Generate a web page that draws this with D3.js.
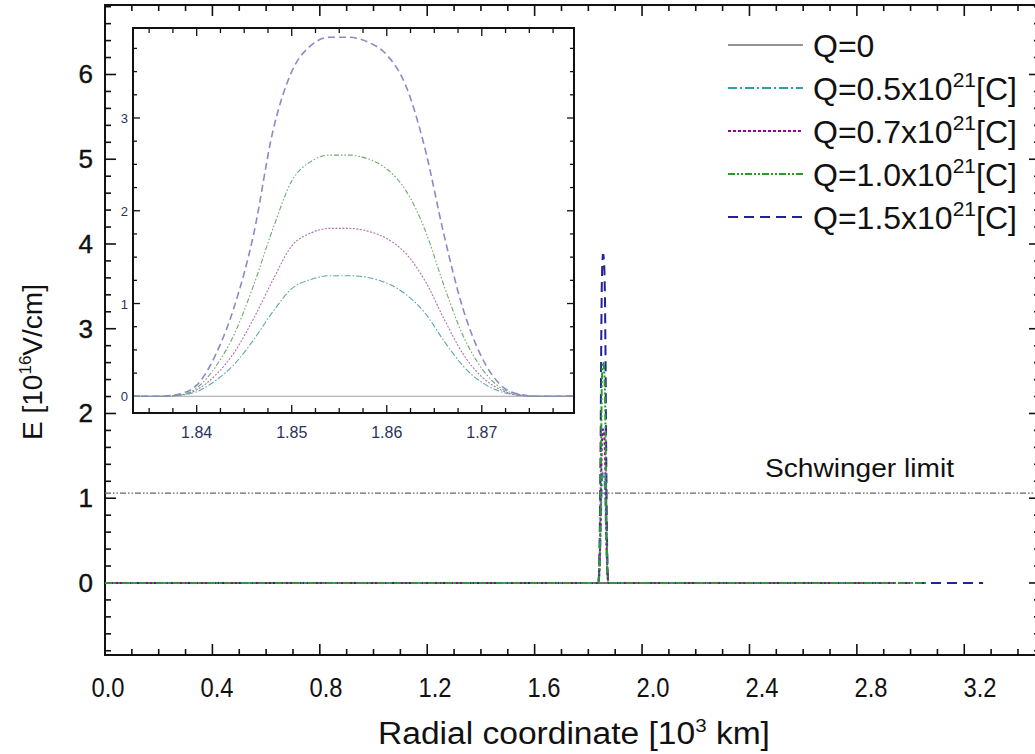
<!DOCTYPE html>
<html>
<head>
<meta charset="utf-8">
<script src="https://cdn.jsdelivr.net/npm/d3@7"></script>
<style>
  html, body { margin: 0; padding: 0; background: #fff; }
  svg { display: block; }
  text { font-family: "Liberation Sans", Arial, sans-serif; fill: #111; }
</style>
</head>
<body>
<svg id="chart" width="1035" height="754"></svg>
<script>
// ---------------- data ----------------
const seriesNames = ["Q=0", "Q=0.5x10", "Q=0.7x10", "Q=1.0x10", "Q=1.5x10"];
const seriesSup = ["", "21", "21", "21", "21"];
const seriesUnit = ["", "[C]", "[C]", "[C]", "[C]"];

// radial coordinate samples across the peak [10^3 km]
const rPeak = [1.833, 1.836, 1.838, 1.840, 1.842, 1.844, 1.846, 1.848, 1.850, 1.852, 1.854,
               1.856, 1.858, 1.860, 1.862, 1.864, 1.866, 1.868, 1.870, 1.872, 1.874, 1.876, 1.880];

const eQ0   = [0, 0, 0, 0, 0, 0, 0, 0, 0, 0, 0, 0, 0, 0, 0, 0, 0, 0, 0, 0, 0, 0, 0];
const eQ05  = [0, 0, 0.01, 0.05, 0.17, 0.35, 0.61, 0.91, 1.16, 1.26, 1.30, 1.30, 1.28, 1.22, 1.10, 0.90, 0.60, 0.33, 0.15, 0.05, 0.01, 0, 0];
const eQ07  = [0, 0, 0.01, 0.07, 0.23, 0.48, 0.84, 1.25, 1.62, 1.76, 1.81, 1.81, 1.78, 1.70, 1.54, 1.25, 0.84, 0.46, 0.21, 0.07, 0.01, 0, 0];
const eQ10  = [0, 0, 0.01, 0.09, 0.32, 0.68, 1.20, 1.80, 2.32, 2.53, 2.60, 2.60, 2.56, 2.45, 2.22, 1.80, 1.20, 0.66, 0.30, 0.09, 0.02, 0, 0];
const eQ15  = [0, 0, 0.02, 0.12, 0.45, 0.98, 1.75, 2.85, 3.50, 3.78, 3.87, 3.87, 3.82, 3.68, 3.35, 2.68, 1.75, 0.95, 0.42, 0.12, 0.02, 0, 0];

// extent of each curve in the full plot [10^3 km]
const rStart = [0, 0, 0, 0, 0];
const rEnd   = [2.90, 2.95, 3.00, 3.06, 3.27];

const schwingerLimit = 1.06;

const xTicksMain = [0, 0.4, 0.8, 1.2, 1.6, 2.0, 2.4, 2.8, 3.2];
const yTicksMain = [0, 1, 2, 3, 4, 5, 6];
const xTicksInset = [1.84, 1.85, 1.86, 1.87];
const yTicksInset = [0, 1, 2, 3];

// ---------------- setup ----------------
const allE = [eQ0, eQ05, eQ07, eQ10, eQ15];
const colors = ["#707070", "#2f9f9f", "#990099", "#2a9a2a", "#232394"];
const insetColors = ["#a0a0a0", "#5aa8a8", "#b070b0", "#6aaa6a", "#8a8ac8"];
const dashes = ["", "9,3,2,3", "3,2", "7,2,2,2,2,2", "10,6"];
const insetDashes = ["", "6,2,1.5,2", "2,1.5", "5,2,1.5,2,1.5,2", "7,4"];

function seriesData(i) {
  const pts = [[rStart[i], 0]];
  rPeak.forEach((r, k) => pts.push([r, allE[i][k]]));
  pts.push([rEnd[i], 0]);
  return pts;
}

const svg = d3.select("#chart");

// main scales
const xMax = 3.482;
const x = d3.scaleLinear().domain([0, xMax]).range([105, 1040]);
const xLab = d3.scaleLinear().domain([0, 3.2]).range([108, 980]);
const y = d3.scaleLinear().domain([-0.85, 6.82]).range([655, 5]);

const g = svg.append("g");

// frame
g.append("rect").attr("x", x(0)).attr("y", y(6.82)).attr("width", x(xMax) - x(0)).attr("height", y(-0.85) - y(6.82))
  .attr("fill", "none").attr("stroke", "#111").attr("stroke-width", 2);

// ticks (inward, all four sides)
function drawTicks(grp, scale, vals, orient, pos, len, width) {
  vals.forEach(v => {
    const p = scale(v);
    let x1, y1, x2, y2;
    if (orient === "bottom") { x1 = x2 = p; y1 = pos; y2 = pos - len; }
    if (orient === "top")    { x1 = x2 = p; y1 = pos; y2 = pos + len; }
    if (orient === "left")   { y1 = y2 = p; x1 = pos; x2 = pos + len; }
    if (orient === "right")  { y1 = y2 = p; x1 = pos; x2 = pos - len; }
    grp.append("line").attr("x1", x1).attr("y1", y1).attr("x2", x2).attr("y2", y2)
      .attr("stroke", "#111").attr("stroke-width", width);
  });
}
const xMinor = d3.range(0, xMax, 0.1).filter(v => Math.abs(v / 0.4 - Math.round(v / 0.4)) > 1e-6);
const yMinor = d3.range(-0.8, 6.81, 0.2).filter(v => Math.abs(v - Math.round(v)) > 1e-6);
drawTicks(g, x, xTicksMain, "bottom", y(-0.85), 11, 1.6);
drawTicks(g, x, xMinor, "bottom", y(-0.85), 6, 1.6);
drawTicks(g, x, xTicksMain, "top", y(6.82), 11, 1.6);
drawTicks(g, x, xMinor, "top", y(6.82), 6, 1.6);
drawTicks(g, y, yTicksMain, "left", x(0), 11, 1.6);
drawTicks(g, y, yMinor, "left", x(0), 6, 1.6);
drawTicks(g, y, yTicksMain, "right", x(xMax), 11, 1.6);
drawTicks(g, y, yMinor, "right", x(xMax), 6, 1.6);

// tick labels
g.selectAll(".xl").data(xTicksMain).enter().append("text")
  .attr("transform", d => `translate(${xLab(d)},697) scale(0.88,1)`).attr("text-anchor", "middle")
  .style("font-size", "27px").text(d => d.toFixed(1));
g.selectAll(".yl").data(yTicksMain).enter().append("text")
  .attr("x", 93).attr("y", d => y(d) + 9).attr("text-anchor", "end")
  .style("font-size", "26px").style("stroke", "#111").style("stroke-width", 0.4).text(d => d);

// axis titles
const xt = g.append("text").attr("text-anchor", "middle").style("font-size", "31px");
xt.append("tspan").text("Radial coordinate [10");
xt.append("tspan").attr("dy", -12).style("font-size", "19px").text("3");
xt.append("tspan").attr("dy", 12).text(" km]");
{
  const w = xt.node().getComputedTextLength();
  const sx = 392 / w;
  xt.attr("transform", `translate(574,744) scale(${sx},1)`);
}

const yt = g.append("text").attr("transform", "translate(42,362) rotate(-90)").attr("text-anchor", "middle")
  .style("font-size", "28px");
yt.append("tspan").text("E [10");
yt.append("tspan").attr("dy", -11).style("font-size", "17px").text("16");
yt.append("tspan").attr("dy", 11).text("V/cm]");

// Schwinger limit
g.append("line").attr("x1", x(0)).attr("x2", x(xMax)).attr("y1", y(schwingerLimit)).attr("y2", y(schwingerLimit))
  .attr("stroke", "#666").attr("stroke-width", 1.3).attr("stroke-dasharray", "6,2,1.5,2,1.5,2");
g.append("text").attr("x", 765).attr("y", y(schwingerLimit) - 16).style("font-size", "25px")
  .attr("textLength", 189).attr("lengthAdjust", "spacingAndGlyphs").text("Schwinger limit");

// main curves
const line = d3.line().x(d => x(d[0])).y(d => y(d[1]));
const order = [0, 4, 1, 2, 3];
order.forEach(i => {
  g.append("path").datum(seriesData(i)).attr("d", line)
    .attr("fill", "none").attr("stroke", colors[i]).attr("stroke-width", 2)
    .attr("stroke-dasharray", dashes[i] || null);
});

// legend
const legY = [45, 88, 131, 174, 217];
seriesNames.forEach((name, i) => {
  g.append("line").attr("x1", 728).attr("x2", 803).attr("y1", legY[i]).attr("y2", legY[i])
    .attr("stroke", colors[i]).attr("stroke-width", i === 0 ? 1.5 : 2)
    .attr("stroke-dasharray", dashes[i] || null);
  const t = g.append("text").attr("x", 813).attr("y", legY[i] + 12).style("font-size", "32px");
  t.append("tspan").text(name);
  if (seriesSup[i]) {
    t.append("tspan").attr("dy", -13).style("font-size", "21px").text(seriesSup[i]);
    t.append("tspan").attr("dy", 13).text(seriesUnit[i]);
  }
});

// ---------------- inset ----------------
const xi = d3.scaleLinear().domain([1.8333, 1.8797]).range([133, 574]);
const yi = d3.scaleLinear().domain([-0.18, 3.97]).range([413, 28]);
const gi = svg.append("g");
gi.append("rect").attr("x", 133).attr("y", 28).attr("width", 441).attr("height", 385)
  .attr("fill", "#fff").attr("stroke", "#111").attr("stroke-width", 2);

const xiMinor = d3.range(1.8350, 1.8797, 0.0025).filter(v => Math.abs(v / 0.01 - Math.round(v / 0.01)) > 1e-6);
const yiMinor = d3.range(-0.0, 3.97, 0.25).filter(v => Math.abs(v - Math.round(v)) > 1e-6);
drawTicks(gi, xi, xTicksInset, "bottom", 413, 8, 1.3);
drawTicks(gi, xi, xiMinor, "bottom", 413, 5, 1.3);
drawTicks(gi, xi, xTicksInset, "top", 28, 8, 1.3);
drawTicks(gi, xi, xiMinor, "top", 28, 5, 1.3);
drawTicks(gi, yi, yTicksInset, "left", 133, 7, 1.3);
drawTicks(gi, yi, yiMinor, "left", 133, 4, 1.3);
drawTicks(gi, yi, yTicksInset, "right", 574, 7, 1.3);
drawTicks(gi, yi, yiMinor, "right", 574, 4, 1.3);

gi.selectAll(".xil").data(xTicksInset).enter().append("text")
  .attr("x", d => xi(d)).attr("y", 438).attr("text-anchor", "middle")
  .style("font-size", "16px").style("fill", "#2a3358").text(d => d.toFixed(2));
gi.selectAll(".yil").data(yTicksInset).enter().append("text")
  .attr("x", 128).attr("y", d => yi(d) + 5).attr("text-anchor", "end")
  .style("font-size", "13px").style("fill", "#2a3358").text(d => d);

const clipId = "insetClip";
svg.append("defs").append("clipPath").attr("id", clipId)
  .append("rect").attr("x", 134).attr("y", 29).attr("width", 439).attr("height", 383);

const linei = d3.line().x(d => xi(d[0])).y(d => yi(d[1])).curve(d3.curveMonotoneX);
const gic = gi.append("g").attr("clip-path", `url(#${clipId})`);
[0, 1, 2, 3, 4].forEach(i => {
  const pts = rPeak.map((r, k) => [r, allE[i][k]]);
  gic.append("path").datum(pts).attr("d", linei)
    .attr("fill", "none").attr("stroke", insetColors[i]).attr("stroke-width", i === 4 ? 1.6 : 1.1)
    .attr("stroke-dasharray", insetDashes[i] || null);
});
</script>
</body>
</html>
